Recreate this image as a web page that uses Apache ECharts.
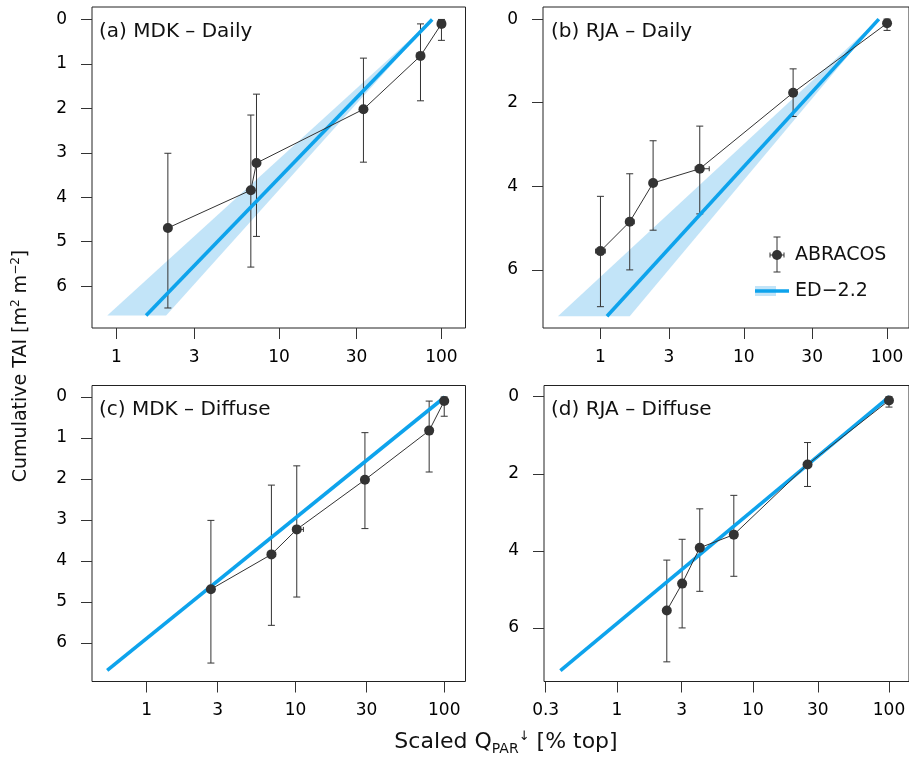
<!DOCTYPE html>
<html><head><meta charset="utf-8">
<script src="https://cdn.jsdelivr.net/npm/echarts@6/dist/echarts.min.js"></script>
<style>html,body{margin:0;padding:0;background:#fff}#c{width:909px;height:758px}</style>
</head><body><div id="c"></div>
<script>
// ---------- data ----------
// ABRACOS observations: cumulative TAI (points) and error limits
const mdkTAI      = [4.69, 3.84, 3.23, 2.02, 0.82, 0.10];
const mdkTAIUpper = [3.01, 2.15, 1.68, 0.87, 0.10, 0.00];
const mdkTAILower = [6.49, 5.57, 4.88, 3.21, 1.83, 0.47];
const rjaTAI      = [5.55, 4.85, 3.92, 3.58, 1.76, 0.10];
const rjaTAIUpper = [4.24, 3.70, 2.91, 2.56, 1.19, 0.00];
const rjaTAILower = [6.88, 6.00, 5.05, 4.66, 2.33, 0.27];
// Scaled Q_PAR (% top) and its small error limits
const mdkDailyQ     = [2.07, 6.71, 7.27, 33.1, 74.3, 100];
const mdkDailyQLo   = [2.03, 6.55, 7.15, 32.5, 73.0, 98.5];
const mdkDailyQHi   = [2.11, 6.85, 7.40, 33.7, 75.6, 101.5];
const rjaDailyQ     = [1.00, 1.60, 2.33, 4.93, 22.1, 100];
const rjaDailyQLo   = [0.925, 1.56, 2.28, 4.58, 21.6, 98.5];
const rjaDailyQHi   = [1.08, 1.72, 2.38, 5.74, 22.6, 101.5];
const mdkDiffuseQ   = [2.70, 6.89, 10.2, 29.3, 79.2, 100];
const mdkDiffuseQLo = [2.62, 6.70, 9.9, 28.7, 77.8, 98.5];
const mdkDiffuseQHi = [2.78, 7.35, 11.3, 29.9, 80.6, 101.5];
const rjaDiffuseQ   = [2.33, 3.02, 4.07, 7.24, 25.2, 100];
const rjaDiffuseQLo = [2.28, 2.95, 4.00, 7.10, 24.7, 98.5];
const rjaDiffuseQHi = [2.38, 3.12, 4.15, 7.40, 25.7, 101.5];
// ED-2.2 model lines (Q, TAI end points) and ensemble bands
const mdkDailyEdQ = [1.52, 87.7],   mdkDailyEdTAI = [6.66, 0];
const mdkDailyBandLoQ = [0.877, 87.7], mdkDailyBandHiQ = [2.02, 87.7];
const rjaDailyEdQ = [1.11, 87.6],   rjaDailyEdTAI = [7.11, 0];
const rjaDailyBandLoQ = [0.505, 87.6], rjaDailyBandHiQ = [1.60, 87.6];
const mdkDiffuseEdQ = [0.542, 101], mdkDiffuseEdTAI = [6.67, 0];
const rjaDiffuseEdQ = [0.385, 100.8], rjaDiffuseEdTAI = [7.11, 0];
// tick labels
const xTicks  = [1, 3, 10, 30, 100];
const xTicksD = [0.3, 1, 3, 10, 30, 100];
const yTicksMDK = [0, 1, 2, 3, 4, 5, 6];
const yTicksRJA = [0, 2, 4, 6];
const panelTitles = ['(a) MDK \u2013 Daily', '(b) RJA \u2013 Daily', '(c) MDK \u2013 Diffuse', '(d) RJA \u2013 Diffuse'];

// ---------- styling ----------
const FONT = 'DejaVu Sans';
const BLUE = '#0ea3ec';
const BAND = '#c2e4f8';
const DARK = '#333333';
const L = Math.log10;

const panels = [
  {grid:{left:92, top:7, width:373.5, height:321}, xr:[-0.151, 2.148], yr:[-0.28, 6.94], xt:xTicks, yt:yTicksMDK,
   q:mdkDailyQ, qlo:mdkDailyQLo, qhi:mdkDailyQHi, tai:mdkTAI, tu:mdkTAIUpper, tl:mdkTAILower,
   edQ:mdkDailyEdQ, edT:mdkDailyEdTAI, bLo:mdkDailyBandLoQ, bHi:mdkDailyBandHiQ},
  {grid:{left:543, top:7, width:373.5, height:321}, xr:[-0.401, 2.153], yr:[-0.29, 7.39], xt:xTicks, yt:yTicksRJA,
   q:rjaDailyQ, qlo:rjaDailyQLo, qhi:rjaDailyQHi, tai:rjaTAI, tu:rjaTAIUpper, tl:rjaTAILower,
   edQ:rjaDailyEdQ, edT:rjaDailyEdTAI, bLo:rjaDailyBandLoQ, bHi:rjaDailyBandHiQ},
  {grid:{left:92, top:385.5, width:373.5, height:296}, xr:[-0.368, 2.143], yr:[-0.28, 6.94], xt:xTicks, yt:yTicksMDK,
   q:mdkDiffuseQ, qlo:mdkDiffuseQLo, qhi:mdkDiffuseQHi, tai:mdkTAI, tu:mdkTAIUpper, tl:mdkTAILower,
   edQ:mdkDiffuseEdQ, edT:mdkDiffuseEdTAI},
  {grid:{left:544, top:385.5, width:373.5, height:296}, xr:[-0.535, 2.147], yr:[-0.29, 7.39], xt:xTicksD, yt:yTicksRJA,
   q:rjaDiffuseQ, qlo:rjaDiffuseQLo, qhi:rjaDiffuseQHi, tai:rjaTAI, tu:rjaTAIUpper, tl:rjaTAILower,
   edQ:rjaDiffuseEdQ, edT:rjaDiffuseEdTAI}
];

function fmtQ(v){ const q = Math.pow(10, v); return q < 1 ? q.toFixed(1) : String(Math.round(q)); }

const grids = [], xAxes = [], yAxes = [], series = [];
panels.forEach((p, i) => {
  grids.push(Object.assign({show:true, borderColor:'#222', borderWidth:1, backgroundColor:'transparent'}, p.grid));
  xAxes.push({type:'value', gridIndex:i, position:'bottom', min:p.xr[0], max:p.xr[1],
    axisLine:{show:false, onZero:false}, splitLine:{show:false},
    axisTick:{show:true, length:11, lineStyle:{color:DARK, width:1}, customValues:p.xt.map(L)},
    axisLabel:{show:true, margin:21, fontFamily:FONT, fontSize:17, color:'#000',
      customValues:p.xt.map(L), formatter:fmtQ}});
  yAxes.push({type:'value', gridIndex:i, position:'left', min:p.yr[0], max:p.yr[1], inverse:true,
    axisLine:{show:false, onZero:false}, splitLine:{show:false},
    axisTick:{show:true, length:11, lineStyle:{color:DARK, width:1}, customValues:p.yt},
    axisLabel:{show:true, margin:25, fontFamily:FONT, fontSize:17, color:'#000',
      customValues:p.yt, formatter:v => String(v)}});

  if (p.bLo) {
    const bLo = p.bLo, bHi = p.bHi, bT = p.edT;
    series.push({type:'custom', xAxisIndex:i, yAxisIndex:i, z:1, silent:true,
      data:[[L(bLo[0]), bT[0]]],
      renderItem:(params, api) => {
        const pts = [];
        for (let k = 0; k < bLo.length; k++) pts.push(api.coord([L(bLo[k]), bT[k]]));
        for (let k = bHi.length - 1; k >= 0; k--) pts.push(api.coord([L(bHi[k]), bT[k]]));
        return {type:'polygon', shape:{points:pts}, style:{fill:BAND, stroke:null}};
      }});
  }
  // error bars
  series.push({type:'custom', xAxisIndex:i, yAxisIndex:i, z:2, silent:true,
    encode:{x:0, y:1},
    data:p.q.map((q, k) => [L(q), p.tai[k], p.tu[k], p.tl[k], L(p.qlo[k]), L(p.qhi[k])]),
    renderItem:(params, api) => {
      const x = api.value(0), y = api.value(1);
      const pu = api.coord([x, api.value(2)]), pl = api.coord([x, api.value(3)]);
      const ph1 = api.coord([api.value(4), y]), ph2 = api.coord([api.value(5), y]);
      const c = 3.5, st = {stroke:DARK, lineWidth:1};
      const ln = (x1,y1,x2,y2) => ({type:'line', shape:{x1,y1,x2,y2}, style:st});
      return {type:'group', children:[
        ln(pu[0], pu[1], pl[0], pl[1]),
        ln(pu[0]-c, pu[1], pu[0]+c, pu[1]),
        ln(pl[0]-c, pl[1], pl[0]+c, pl[1]),
        ln(ph1[0], ph1[1], ph2[0], ph2[1]),
        ln(ph1[0], ph1[1]-2.5, ph1[0], ph1[1]+2.5),
        ln(ph2[0], ph2[1]-2.5, ph2[0], ph2[1]+2.5)
      ]};
    }});
  // model line
  series.push({type:'line', xAxisIndex:i, yAxisIndex:i, z:3, silent:true, symbol:'none',
    lineStyle:{color:BLUE, width:3.6}, data:p.edQ.map((q, k) => [L(q), p.edT[k]])});
  // observations
  series.push({type:'line', xAxisIndex:i, yAxisIndex:i, z:4, silent:true, symbol:'circle', symbolSize:10,
    itemStyle:{color:DARK}, lineStyle:{color:DARK, width:1},
    data:p.q.map((q, k) => [L(q), p.tai[k]])});
});

const titleStyle = {fontFamily:FONT, fontSize:20, fill:'#111', verticalAlign:'middle', align:'left'};
const graphics = [
  {type:'text', x:99, y:32, style:Object.assign({text:panelTitles[0]}, titleStyle)},
  {type:'text', x:551, y:32, style:Object.assign({text:panelTitles[1]}, titleStyle)},
  {type:'text', x:99, y:410, style:Object.assign({text:panelTitles[2]}, titleStyle)},
  {type:'text', x:551, y:410, style:Object.assign({text:panelTitles[3]}, titleStyle)},
  // axis titles
  {type:'text', x:506, y:742, style:{text:'Scaled Q{sub|PAR}{sup|\u2193} [% top]', fontFamily:FONT, fontSize:22,
     fill:'#111', align:'center', verticalAlign:'middle',
     rich:{sub:{fontFamily:FONT, fontSize:14, verticalAlign:'bottom', lineHeight:24, fill:'#111', padding:[0,0,-2,0]},
           sup:{fontFamily:FONT, fontSize:13, verticalAlign:'top', lineHeight:24, fill:'#111'}}}},
  {type:'text', x:21, y:366, rotation:Math.PI/2,
   style:{text:'Cumulative TAI [m{sup|2} m{sup|\u22122}]', fontFamily:FONT, fontSize:19, fill:'#111',
     align:'center', verticalAlign:'middle',
     rich:{sup:{fontFamily:FONT, fontSize:12, verticalAlign:'top', lineHeight:22, fill:'#111'}}}},
  // legend
  {type:'group', children:[
    {type:'line', shape:{x1:777, y1:237, x2:777, y2:272}, style:{stroke:DARK, lineWidth:1}},
    {type:'line', shape:{x1:773.5, y1:237, x2:780.5, y2:237}, style:{stroke:DARK, lineWidth:1}},
    {type:'line', shape:{x1:773.5, y1:272, x2:780.5, y2:272}, style:{stroke:DARK, lineWidth:1}},
    {type:'line', shape:{x1:770, y1:255, x2:784, y2:255}, style:{stroke:DARK, lineWidth:1}},
    {type:'line', shape:{x1:770, y1:252.5, x2:770, y2:257.5}, style:{stroke:DARK, lineWidth:1}},
    {type:'line', shape:{x1:784, y1:252.5, x2:784, y2:257.5}, style:{stroke:DARK, lineWidth:1}},
    {type:'circle', shape:{cx:777, cy:255, r:5}, style:{fill:DARK}},
    {type:'text', x:795, y:255, style:{text:'ABRACOS', fontFamily:FONT, fontSize:19, fill:'#111', verticalAlign:'middle'}},
    {type:'rect', shape:{x:755, y:286, width:21, height:10}, style:{fill:BAND}},
    {type:'line', shape:{x1:755, y1:291, x2:789, y2:291}, style:{stroke:BLUE, lineWidth:3.6}},
    {type:'text', x:795, y:291, style:{text:'ED\u22122.2', fontFamily:FONT, fontSize:19, fill:'#111', verticalAlign:'middle'}}
  ]}
];

const chart = echarts.init(document.getElementById('c'), null, {renderer:'canvas'});
chart.setOption({
  animation:false, backgroundColor:'#fff',
  grid:grids, xAxis:xAxes, yAxis:yAxes, series:series, graphic:graphics
});
</script></body></html>
